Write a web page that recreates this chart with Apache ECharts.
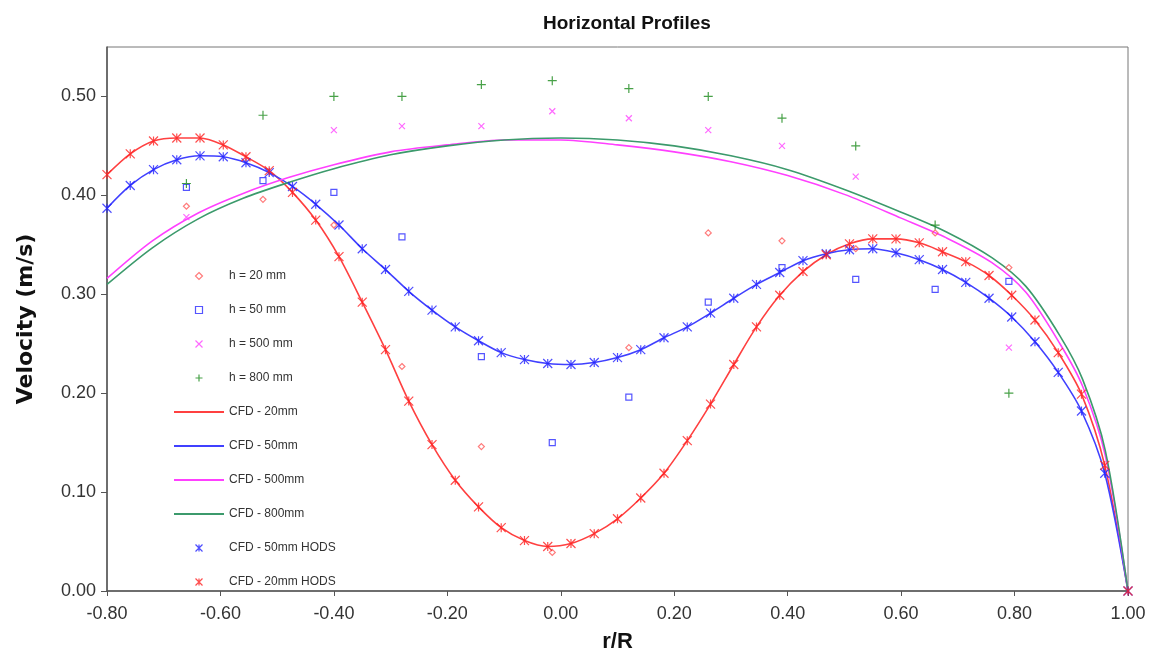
<!DOCTYPE html>
<html>
<head>
<meta charset="utf-8">
<title>Horizontal Profiles</title>
<script src="https://cdn.jsdelivr.net/npm/echarts@6.0.0/dist/echarts.min.js"></script>
<style>
    html, body { margin: 0; padding: 0; background: #fff; }
    #chart { width: 1151px; height: 659px; }
</style>
</head>
<body>
<div id="chart"></div>
<script>
// measured points (r/R positions of the probes)
let measX = [-0.66, -0.525, -0.40, -0.28, -0.14, -0.015, 0.12, 0.26, 0.39, 0.52, 0.66, 0.79];
let h20 = [0.389, 0.396, 0.370, 0.227, 0.146, 0.039, 0.246, 0.362, 0.354, 0.346, 0.362, 0.327];
let h50 = [0.408, 0.415, 0.403, 0.358, 0.237, 0.150, 0.196, 0.292, 0.327, 0.315, 0.305, 0.313];
let h500 = [0.378, null, 0.466, 0.470, 0.470, 0.485, 0.478, 0.466, 0.450, 0.419, null, 0.246];
let h800 = [0.412, 0.481, 0.500, 0.500, 0.512, 0.516, 0.508, 0.500, 0.478, 0.450, 0.370, 0.200];

// CFD with HODS scheme, 20mm and 50mm
let hodsX = [-0.800, -0.759, -0.718, -0.677, -0.636, -0.595, -0.555, -0.514, -0.473, -0.432,
    -0.391, -0.350, -0.309, -0.268, -0.227, -0.186, -0.145, -0.105, -0.064, -0.023,
    0.018, 0.059, 0.100, 0.141, 0.182, 0.223, 0.264, 0.305, 0.345, 0.386,
    0.427, 0.468, 0.509, 0.550, 0.591, 0.632, 0.673, 0.714, 0.755, 0.795,
    0.836, 0.877, 0.918, 0.959, 1.000];
let cfd20 = [0.421, 0.442, 0.455, 0.458, 0.458, 0.451, 0.439, 0.425, 0.403, 0.375,
    0.338, 0.292, 0.244, 0.192, 0.148, 0.112, 0.085, 0.064, 0.051, 0.045,
    0.048, 0.058, 0.073, 0.094, 0.119, 0.152, 0.189, 0.229, 0.267, 0.299,
    0.323, 0.340, 0.351, 0.356, 0.356, 0.352, 0.343, 0.333, 0.319, 0.299,
    0.274, 0.241, 0.199, 0.127, 0.000];
let cfd50 = [0.387, 0.410, 0.426, 0.436, 0.440, 0.439, 0.433, 0.423, 0.409, 0.391,
    0.370, 0.346, 0.325, 0.303, 0.284, 0.267, 0.253, 0.241, 0.234, 0.230,
    0.229, 0.231, 0.236, 0.244, 0.256, 0.267, 0.281, 0.296, 0.310, 0.322,
    0.334, 0.341, 0.345, 0.346, 0.342, 0.335, 0.325, 0.312, 0.296, 0.277,
    0.252, 0.221, 0.182, 0.119, 0.000];

// CFD 500mm and 800mm
let cfdX = [-0.80, -0.72, -0.64, -0.56, -0.48, -0.40, -0.30, -0.20, -0.10, 0.00, 0.10, 0.20,
    0.30, 0.40, 0.50, 0.60, 0.68, 0.76, 0.82, 0.88, 0.92, 0.96, 1.00];
let cfd500 = [0.316, 0.354, 0.382, 0.402, 0.418, 0.431, 0.444, 0.451, 0.456, 0.456, 0.451, 0.444,
    0.434, 0.420, 0.401, 0.377, 0.357, 0.332, 0.302, 0.250, 0.207, 0.137, 0.000];
let cfd800 = [0.310, 0.347, 0.376, 0.397, 0.413, 0.427, 0.441, 0.450, 0.456, 0.458, 0.456, 0.450,
    0.440, 0.426, 0.406, 0.383, 0.363, 0.337, 0.308, 0.258, 0.214, 0.142, 0.000];

let xTicks = [-0.8, 1.0, 0.2];   // min, max, interval
let yTicks = [0, 0.55, 0.1];

function pairs(xs, ys)
{
    let out = [];
    for (let i = 0; i < xs.length; i++)
    {
        if (ys[i] !== null) out.push([xs[i], ys[i]]);
    }
    return out;
}

const DIAMOND_PATH = 'path://M5,0L10,5L5,10L0,5Z';
const RECT_PATH = 'path://M0,0L10,0L10,10L0,10Z';
const X_PATH = 'path://M0,0L10,10M10,0L0,10';
const PLUS_PATH = 'path://M5,0L5,10M0,5L10,5';
const STAR_PATH = 'path://M0,0L10,10M10,0L0,10M5,0L5,10';

function marker(name, data, symbol, size, color)
{
    return {
        name: name,
        type: 'scatter',
        data: data,
        symbol: symbol,
        symbolSize: size,
        z: 4,
        itemStyle: {
            color: 'rgba(0,0,0,0)',
            borderColor: color,
            borderWidth: 1.2
        }
    };
}

function curve(name, data, color)
{
    return {
        name: name,
        type: 'line',
        data: data,
        smooth: 0.3,
        symbol: 'none',
        z: 2,
        lineStyle: {color: color, width: 1.6},
        itemStyle: {color: color}
    };
}

let hiddenDot = {color: 'rgba(0,0,0,0)', borderColor: 'rgba(0,0,0,0)', borderWidth: 0};

let myChart = echarts.init(document.getElementById('chart'));

let option = {
    backgroundColor: '#fff',
    animation: false,
    title: {
        text: 'Horizontal Profiles',
        left: 538,
        top: 9,
        textStyle: {
            fontFamily: 'Liberation Sans, Arial, sans-serif',
            fontSize: 19,
            fontWeight: 'bold',
            color: '#111'
        }
    },
    grid: {
        left: 107,
        right: 23,
        top: 47,
        bottom: 68,
        show: true,
        borderColor: '#777',
        borderWidth: 1
    },
    legend: {
        orient: 'vertical',
        left: 173,
        top: 270,
        padding: 0,
        itemWidth: 50,
        itemHeight: 7,
        itemGap: 22,
        symbolKeepAspect: true,
        textStyle: {
            fontFamily: 'Liberation Sans, Arial, sans-serif',
            fontSize: 12,
            lineHeight: 12,
            color: '#333'
        },
        itemStyle: {borderWidth: 1.2},
        data: [
            'h = 20 mm', 'h = 50 mm', 'h = 500 mm', 'h = 800 mm',
            {name: 'CFD - 20mm', itemStyle: hiddenDot},
            {name: 'CFD - 50mm', itemStyle: hiddenDot},
            {name: 'CFD - 500mm', itemStyle: hiddenDot},
            {name: 'CFD - 800mm', itemStyle: hiddenDot},
            'CFD - 50mm HODS', 'CFD - 20mm HODS'
        ]
    },
    xAxis: {
        type: 'value',
        min: xTicks[0],
        max: xTicks[1],
        interval: xTicks[2],
        name: 'r/R',
        nameLocation: 'middle',
        nameGap: 40,
        nameTextStyle: {
            fontFamily: 'Liberation Sans, Arial, sans-serif',
            fontSize: 22,
            fontWeight: 'bold',
            color: '#111'
        },
        axisLine: {onZero: false, lineStyle: {color: '#555', width: 1.5}},
        axisTick: {show: true, inside: false, length: 5, lineStyle: {color: '#555'}},
        axisLabel: {
            margin: 14,
            fontFamily: 'Liberation Sans, Arial, sans-serif',
            fontSize: 18,
            color: '#333',
            formatter: function (v)
            {
                return v.toFixed(2);
            }
        },
        splitLine: {show: false}
    },
    yAxis: {
        type: 'value',
        min: yTicks[0],
        max: yTicks[1],
        interval: yTicks[2],
        name: 'Velocity (m/s)',
        nameLocation: 'middle',
        nameGap: 70,
        nameTextStyle: {
            fontFamily: 'DejaVu Sans, sans-serif',
            fontSize: 22,
            fontWeight: 'bold',
            color: '#111'
        },
        axisLine: {show: true, onZero: false, lineStyle: {color: '#555', width: 1.5}},
        axisTick: {show: true, inside: false, length: 6, lineStyle: {color: '#555'}},
        axisLabel: {
            margin: 11,
            showMaxLabel: false,
            fontFamily: 'Liberation Sans, Arial, sans-serif',
            fontSize: 18,
            color: '#333',
            formatter: function (v)
            {
                return v.toFixed(2);
            }
        },
        splitLine: {show: false}
    },
    series: [
        marker('h = 20 mm', pairs(measX, h20), DIAMOND_PATH, 6, '#ff5a5a'),
        marker('h = 50 mm', pairs(measX, h50), RECT_PATH, 6, '#2a2aff'),
        marker('h = 500 mm', pairs(measX, h500), X_PATH, 6, '#ff44ff'),
        marker('h = 800 mm', pairs(measX, h800), PLUS_PATH, 9, '#1a8a1a'),
        curve('CFD - 20mm', pairs(hodsX, cfd20), '#ff4040'),
        curve('CFD - 50mm', pairs(hodsX, cfd50), '#4040ff'),
        curve('CFD - 500mm', pairs(cfdX, cfd500), '#ff40ff'),
        curve('CFD - 800mm', pairs(cfdX, cfd800), '#3c9a6c'),
        marker('CFD - 50mm HODS', pairs(hodsX, cfd50), STAR_PATH, 9, '#2020ff'),
        marker('CFD - 20mm HODS', pairs(hodsX, cfd20), STAR_PATH, 9, '#ff2020')
    ]
};

myChart.setOption(option);
</script>
</body>
</html>
